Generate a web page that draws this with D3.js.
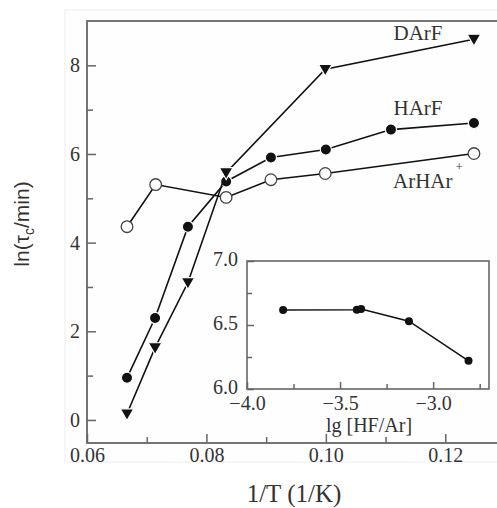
<!DOCTYPE html>
<html>
<head>
<meta charset="utf-8">
<script src="https://cdn.jsdelivr.net/npm/d3@7"></script>
<style>
  body { margin: 0; background: #fff; }
  svg { display: block; }
  text { fill: #333; }
</style>
</head>
<body>
<svg id="chart"></svg>
<script>
//// DATA

// main panel: ln(tau_c/min) vs 1/T
const invT_DArF = [0.0667, 0.0714, 0.0769, 0.0833, 0.0999, 0.1248];
const ln_DArF = [0.14, 1.63, 3.1, 5.58, 7.91, 8.59];

const invT_HArF = [0.0667, 0.0714, 0.0769, 0.0833, 0.0908, 0.1, 0.1109, 0.1248];
const ln_HArF = [0.95, 2.3, 4.36, 5.38, 5.92, 6.1, 6.55, 6.7];

const invT_ArHAr = [0.0667, 0.0715, 0.0833, 0.0908, 0.0999, 0.1248];
const ln_ArHAr = [4.36, 5.31, 5.02, 5.42, 5.56, 6.01];

// inset: HArF vs lg [HF/Ar]
const lgHF = [-3.806, -3.41, -3.387, -3.13, -2.81];
const ln_inset = [6.617, 6.62, 6.625, 6.53, 6.22];

// ticks
const xMajor = [0.06, 0.08, 0.10, 0.12];
const xMinor = [0.07, 0.09, 0.11];
const yMajor = [0, 2, 4, 6, 8];
const yMinor = [1, 3, 5, 7];
const ixMajor = [-4.0, -3.5, -3.0];
const ixMinor = [-3.75, -3.25, -2.75];
const iyMajor = [6.0, 6.5, 7.0];
const iyMinor = [6.25, 6.75];

//// SETUP
const width = 497, height = 508;
const serif = "'Liberation Serif', 'Times New Roman', serif";
const axisColor = "#666";

const svg = d3.select("#chart").attr("width", width).attr("height", height);

const x = d3.scaleLinear().domain([0.06, 0.13]).range([87, 505]);
const y = d3.scaleLinear().domain([-0.52, 9.0]).range([443, 21]);

const xi = d3.scaleLinear().domain([-4.0, -2.7]).range([247, 489]);
const yi = d3.scaleLinear().domain([6.0, 7.0]).range([389, 261]);

const zip = (xs, ys) => xs.map((v, i) => [v, ys[i]]);

// faint backing box of the scanned figure
svg.append("rect")
    .attr("x", 65).attr("y", 10)
    .attr("width", 445).attr("height", 452)
    .attr("fill", "#fefefe")
    .attr("stroke", "#eeeeee");

// main frame
svg.append("rect")
    .attr("x", x(0.06)).attr("y", y(9.0))
    .attr("width", x(0.13) - x(0.06)).attr("height", y(-0.52) - y(9.0))
    .attr("fill", "none")
    .attr("stroke", axisColor)
    .attr("stroke-width", 1.8);

function styleAxis(g) {
    g.select(".domain").remove();
    g.selectAll("line").attr("stroke", axisColor).attr("stroke-width", 1.5);
    g.selectAll("text")
        .style("font-family", serif)
        .style("font-size", "20px")
        .attr("fill", "#333");
}

// main axes
svg.append("g").attr("transform", `translate(0,${y(-0.52)})`)
    .call(d3.axisBottom(x).tickValues(xMajor).tickSize(-9).tickPadding(5)
        .tickFormat(d3.format(".2f")))
    .call(styleAxis);
svg.append("g").attr("transform", `translate(0,${y(-0.52)})`)
    .call(d3.axisBottom(x).tickValues(xMinor).tickSize(-6).tickFormat(""))
    .call(styleAxis);
svg.append("g").attr("transform", `translate(${x(0.06)},0)`)
    .call(d3.axisLeft(y).tickValues(yMajor).tickSize(-9).tickPadding(7)
        .tickFormat(d3.format("d")))
    .call(styleAxis);
svg.append("g").attr("transform", `translate(${x(0.06)},0)`)
    .call(d3.axisLeft(y).tickValues(yMinor).tickSize(-6).tickFormat(""))
    .call(styleAxis);

// main series
const line = d3.line().x(d => x(d[0])).y(d => y(d[1]));
const tri = d3.symbol(d3.symbolTriangle, 80);

function drawSeries(data, kind) {
    svg.append("path")
        .datum(data)
        .attr("d", line)
        .attr("fill", "none")
        .attr("stroke", "#111")
        .attr("stroke-width", 1.6);

    const g = svg.append("g");
    if (kind === "tri") {
        g.selectAll("path").data(data).enter().append("path")
            .attr("d", tri)
            .attr("transform", d => `translate(${x(d[0])},${y(d[1]) - 1}) rotate(180)`)
            .attr("fill", "#111")
            .attr("stroke", "#fff")
            .attr("stroke-width", 1.2);
    } else {
        g.selectAll("circle").data(data).enter().append("circle")
            .attr("cx", d => x(d[0]))
            .attr("cy", d => y(d[1]))
            .attr("r", kind === "open" ? 5.8 : 5.6)
            .attr("fill", kind === "open" ? "#fff" : "#111")
            .attr("stroke", kind === "open" ? "#444" : "#fff")
            .attr("stroke-width", kind === "open" ? 1.3 : 1.2);
    }
}

drawSeries(zip(invT_ArHAr, ln_ArHAr), "open");
drawSeries(zip(invT_HArF, ln_HArF), "filled");
drawSeries(zip(invT_DArF, ln_DArF), "tri");

// series labels
const labelStyle = t => t.style("font-family", serif).style("font-size", "21px");
svg.append("text").attr("x", 418).attr("y", 40).attr("text-anchor", "middle")
    .text("DArF").call(labelStyle);
svg.append("text").attr("x", 418).attr("y", 115).attr("text-anchor", "middle")
    .text("HArF").call(labelStyle);
const arh = svg.append("text").attr("x", 393).attr("y", 188).call(labelStyle);
arh.append("tspan").text("ArHAr");
arh.append("tspan").attr("dx", 3).attr("dy", -17).style("font-size", "13px").text("+");

// axis titles
svg.append("text")
    .attr("transform", "translate(29,224) rotate(-90)")
    .attr("text-anchor", "middle")
    .style("font-family", "'Liberation Sans', Arial, sans-serif")
    .style("font-size", "21px")
    .call(t => {
        t.append("tspan").text("ln(τ");
        t.append("tspan").attr("dy", 5).style("font-size", "14px").text("c");
        t.append("tspan").attr("dy", -5).text("/min)");
    });

svg.append("text")
    .attr("x", 294).attr("y", 502)
    .attr("text-anchor", "middle")
    .style("font-family", serif)
    .style("font-size", "25px")
    .text("1/T (1/K)");

//// INSET
svg.append("rect")
    .attr("x", xi(-4.0)).attr("y", yi(7.0))
    .attr("width", xi(-2.7) - xi(-4.0)).attr("height", yi(6.0) - yi(7.0))
    .attr("fill", "#fff")
    .attr("stroke", axisColor)
    .attr("stroke-width", 1.6);

svg.append("g").attr("transform", `translate(0,${yi(6.0)})`)
    .call(d3.axisBottom(xi).tickValues(ixMajor).tickSize(-7).tickPadding(7)
        .tickFormat(d3.format(".1f")))
    .call(styleAxis);
svg.append("g").attr("transform", `translate(0,${yi(6.0)})`)
    .call(d3.axisBottom(xi).tickValues(ixMinor).tickSize(-5).tickFormat(""))
    .call(styleAxis);
svg.append("g").attr("transform", `translate(${xi(-4.0)},0)`)
    .call(d3.axisLeft(yi).tickValues(iyMajor).tickSize(-7).tickPadding(9)
        .tickFormat(d3.format(".1f")))
    .call(styleAxis)
    .call(g => g.selectAll("text").attr("dy", "0.2em"));
svg.append("g").attr("transform", `translate(${xi(-4.0)},0)`)
    .call(d3.axisLeft(yi).tickValues(iyMinor).tickSize(-5).tickFormat(""))
    .call(styleAxis);

const insetData = zip(lgHF, ln_inset);
svg.append("path")
    .datum(insetData)
    .attr("d", d3.line().x(d => xi(d[0])).y(d => yi(d[1])))
    .attr("fill", "none")
    .attr("stroke", "#111")
    .attr("stroke-width", 1.5);
svg.append("g").selectAll("circle").data(insetData).enter().append("circle")
    .attr("cx", d => xi(d[0]))
    .attr("cy", d => yi(d[1]))
    .attr("r", 4)
    .attr("fill", "#111");

svg.append("text")
    .attr("x", 369).attr("y", 432)
    .attr("text-anchor", "middle")
    .style("font-family", serif)
    .style("font-size", "20px")
    .text("lg [HF/Ar]");
</script>
</body>
</html>
